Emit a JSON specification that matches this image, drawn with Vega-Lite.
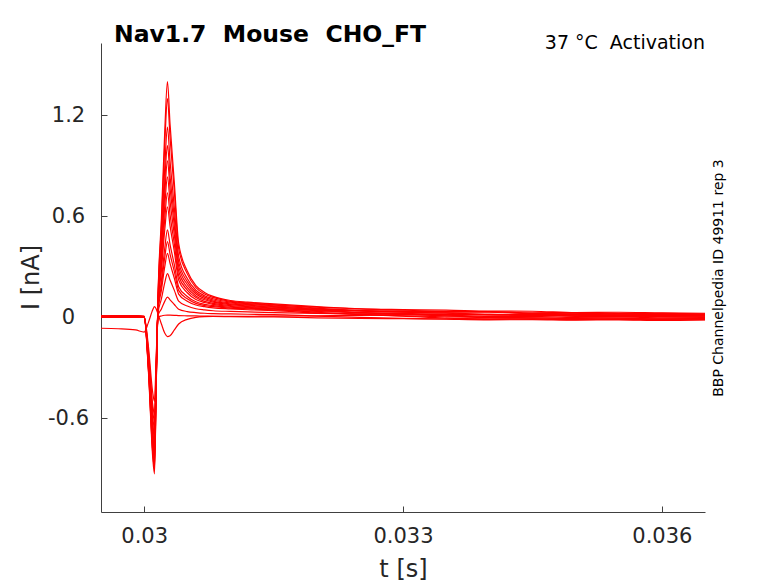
{
  "$schema": "https://vega.github.io/schema/vega-lite/v6.json",
  "description": "Nav1.7 mouse CHO_FT activation current traces, 37 C.",
  "width": 604,
  "height": 469,
  "autosize": "none",
  "padding": {"left": 101, "top": 43, "right": 73, "bottom": 71},
  "background": "white",
  "title": {
    "text": "Nav1.7\u00a0 Mouse\u00a0 CHO_FT",
    "anchor": "start",
    "frame": "group",
    "dx": 13,
    "offset": -32,
    "baseline": "alphabetic",
    "font": "DejaVu Sans",
    "fontSize": 23.5,
    "fontWeight": "bold",
    "color": "#000000"
  },
  "data": {
    "values": [
      {"k":1,"t":0.0295,"i":0.006},{"k":1,"t":0.0297,"i":0.004},{"k":1,"t":0.0299,"i":0.007},{"k":1,"t":0.03,"i":0.003},{"k":1,"t":0.03005,"i":-0.326},{"k":1,"t":0.0301,"i":-0.837},{"k":1,"t":0.03012,"i":-0.93},{"k":1,"t":0.03014,"i":-0.419},{"k":1,"t":0.03016,"i":0.112},{"k":1,"t":0.0302,"i":0.588},{"k":1,"t":0.03024,"i":1.12},{"k":1,"t":0.03027,"i":1.4},{"k":1,"t":0.0303,"i":1.15},{"k":1,"t":0.03035,"i":0.8},{"k":1,"t":0.0304,"i":0.44},{"k":1,"t":0.0305,"i":0.275},{"k":1,"t":0.0306,"i":0.188},{"k":1,"t":0.0307,"i":0.148},{"k":1,"t":0.0308,"i":0.124},{"k":1,"t":0.031,"i":0.1},{"k":1,"t":0.0312,"i":0.09},{"k":1,"t":0.0315,"i":0.08},{"k":1,"t":0.032,"i":0.063},{"k":1,"t":0.0325,"i":0.05},{"k":1,"t":0.033,"i":0.042},{"k":1,"t":0.0335,"i":0.036},{"k":1,"t":0.034,"i":0.034},{"k":1,"t":0.0345,"i":0.024},{"k":1,"t":0.035,"i":0.025},{"k":1,"t":0.0355,"i":0.018},{"k":1,"t":0.036,"i":0.02},{"k":1,"t":0.0365,"i":0.015},
      {"k":2,"t":0.0295,"i":0.004},{"k":2,"t":0.0297,"i":0.006},{"k":2,"t":0.0299,"i":0.003},{"k":2,"t":0.03,"i":0.002},{"k":2,"t":0.03005,"i":-0.315},{"k":2,"t":0.0301,"i":-0.81},{"k":2,"t":0.03012,"i":-0.9},{"k":2,"t":0.03014,"i":-0.405},{"k":2,"t":0.03016,"i":0.104},{"k":2,"t":0.0302,"i":0.546},{"k":2,"t":0.03024,"i":1.04},{"k":2,"t":0.03027,"i":1.3},{"k":2,"t":0.0303,"i":1.07},{"k":2,"t":0.03035,"i":0.745},{"k":2,"t":0.0304,"i":0.41},{"k":2,"t":0.0305,"i":0.258},{"k":2,"t":0.0306,"i":0.176},{"k":2,"t":0.0307,"i":0.139},{"k":2,"t":0.0308,"i":0.118},{"k":2,"t":0.031,"i":0.095},{"k":2,"t":0.0312,"i":0.086},{"k":2,"t":0.0315,"i":0.076},{"k":2,"t":0.032,"i":0.055},{"k":2,"t":0.0325,"i":0.04},{"k":2,"t":0.033,"i":0.03},{"k":2,"t":0.0335,"i":0.024},{"k":2,"t":0.034,"i":0.014},{"k":2,"t":0.0345,"i":0.013},{"k":2,"t":0.035,"i":0.006},{"k":2,"t":0.0355,"i":0.006},{"k":2,"t":0.036,"i":0.002},{"k":2,"t":0.0365,"i":0.003},
      {"k":3,"t":0.0295,"i":0.008},{"k":3,"t":0.0297,"i":0.01},{"k":3,"t":0.0299,"i":0.007},{"k":3,"t":0.03,"i":0.005},{"k":3,"t":0.03005,"i":-0.308},{"k":3,"t":0.0301,"i":-0.792},{"k":3,"t":0.03012,"i":-0.88},{"k":3,"t":0.03014,"i":-0.396},{"k":3,"t":0.03016,"i":0.09},{"k":3,"t":0.0302,"i":0.475},{"k":3,"t":0.03024,"i":0.904},{"k":3,"t":0.03027,"i":1.13},{"k":3,"t":0.0303,"i":0.93},{"k":3,"t":0.03035,"i":0.65},{"k":3,"t":0.0304,"i":0.362},{"k":3,"t":0.0305,"i":0.23},{"k":3,"t":0.0306,"i":0.161},{"k":3,"t":0.0307,"i":0.128},{"k":3,"t":0.0308,"i":0.11},{"k":3,"t":0.031,"i":0.09},{"k":3,"t":0.0312,"i":0.081},{"k":3,"t":0.0315,"i":0.072},{"k":3,"t":0.032,"i":0.06},{"k":3,"t":0.0325,"i":0.05},{"k":3,"t":0.033,"i":0.046},{"k":3,"t":0.0335,"i":0.043},{"k":3,"t":0.034,"i":0.037},{"k":3,"t":0.0345,"i":0.036},{"k":3,"t":0.035,"i":0.028},{"k":3,"t":0.0355,"i":0.03},{"k":3,"t":0.036,"i":0.026},{"k":3,"t":0.0365,"i":0.024},
      {"k":4,"t":0.0295,"i":0.002},{"k":4,"t":0.0297,"i":0.0},{"k":4,"t":0.0299,"i":0.003},{"k":4,"t":0.03,"i":0.001},{"k":4,"t":0.03005,"i":-0.298},{"k":4,"t":0.0301,"i":-0.765},{"k":4,"t":0.03012,"i":-0.85},{"k":4,"t":0.03014,"i":-0.383},{"k":4,"t":0.03016,"i":0.082},{"k":4,"t":0.0302,"i":0.428},{"k":4,"t":0.03024,"i":0.816},{"k":4,"t":0.03027,"i":1.02},{"k":4,"t":0.0303,"i":0.84},{"k":4,"t":0.03035,"i":0.59},{"k":4,"t":0.0304,"i":0.33},{"k":4,"t":0.0305,"i":0.212},{"k":4,"t":0.0306,"i":0.149},{"k":4,"t":0.0307,"i":0.12},{"k":4,"t":0.0308,"i":0.103},{"k":4,"t":0.031,"i":0.085},{"k":4,"t":0.0312,"i":0.077},{"k":4,"t":0.0315,"i":0.068},{"k":4,"t":0.032,"i":0.051},{"k":4,"t":0.0325,"i":0.038},{"k":4,"t":0.033,"i":0.03},{"k":4,"t":0.0335,"i":0.026},{"k":4,"t":0.034,"i":0.017},{"k":4,"t":0.0345,"i":0.015},{"k":4,"t":0.035,"i":0.009},{"k":4,"t":0.0355,"i":0.01},{"k":4,"t":0.036,"i":0.005},{"k":4,"t":0.0365,"i":0.007},
      {"k":5,"t":0.0295,"i":0.005},{"k":5,"t":0.0297,"i":0.003},{"k":5,"t":0.0299,"i":0.006},{"k":5,"t":0.03,"i":0.004},{"k":5,"t":0.03005,"i":-0.287},{"k":5,"t":0.0301,"i":-0.738},{"k":5,"t":0.03012,"i":-0.82},{"k":5,"t":0.03014,"i":-0.369},{"k":5,"t":0.03016,"i":0.074},{"k":5,"t":0.0302,"i":0.391},{"k":5,"t":0.03024,"i":0.744},{"k":5,"t":0.03027,"i":0.93},{"k":5,"t":0.0303,"i":0.768},{"k":5,"t":0.03035,"i":0.54},{"k":5,"t":0.0304,"i":0.303},{"k":5,"t":0.0305,"i":0.195},{"k":5,"t":0.0306,"i":0.138},{"k":5,"t":0.0307,"i":0.112},{"k":5,"t":0.0308,"i":0.096},{"k":5,"t":0.031,"i":0.08},{"k":5,"t":0.0312,"i":0.072},{"k":5,"t":0.0315,"i":0.064},{"k":5,"t":0.032,"i":0.044},{"k":5,"t":0.0325,"i":0.028},{"k":5,"t":0.033,"i":0.018},{"k":5,"t":0.0335,"i":0.009},{"k":5,"t":0.034,"i":0.0},{"k":5,"t":0.0345,"i":-0.003},{"k":5,"t":0.035,"i":-0.006},{"k":5,"t":0.0355,"i":-0.005},{"k":5,"t":0.036,"i":-0.01},{"k":5,"t":0.0365,"i":-0.008},
      {"k":6,"t":0.0295,"i":0.007},{"k":6,"t":0.0297,"i":0.009},{"k":6,"t":0.0299,"i":0.006},{"k":6,"t":0.03,"i":0.004},{"k":6,"t":0.03005,"i":-0.28},{"k":6,"t":0.0301,"i":-0.72},{"k":6,"t":0.03012,"i":-0.8},{"k":6,"t":0.03014,"i":-0.36},{"k":6,"t":0.03016,"i":0.067},{"k":6,"t":0.0302,"i":0.351},{"k":6,"t":0.03024,"i":0.668},{"k":6,"t":0.03027,"i":0.835},{"k":6,"t":0.0303,"i":0.69},{"k":6,"t":0.03035,"i":0.488},{"k":6,"t":0.0304,"i":0.275},{"k":6,"t":0.0305,"i":0.178},{"k":6,"t":0.0306,"i":0.127},{"k":6,"t":0.0307,"i":0.104},{"k":6,"t":0.0308,"i":0.09},{"k":6,"t":0.031,"i":0.075},{"k":6,"t":0.0312,"i":0.068},{"k":6,"t":0.0315,"i":0.06},{"k":6,"t":0.032,"i":0.049},{"k":6,"t":0.0325,"i":0.04},{"k":6,"t":0.033,"i":0.035},{"k":6,"t":0.0335,"i":0.031},{"k":6,"t":0.034,"i":0.03},{"k":6,"t":0.0345,"i":0.022},{"k":6,"t":0.035,"i":0.024},{"k":6,"t":0.0355,"i":0.019},{"k":6,"t":0.036,"i":0.02},{"k":6,"t":0.0365,"i":0.016},
      {"k":7,"t":0.0295,"i":0.003},{"k":7,"t":0.0297,"i":0.005},{"k":7,"t":0.0299,"i":0.002},{"k":7,"t":0.03,"i":0.001},{"k":7,"t":0.03005,"i":-0.273},{"k":7,"t":0.0301,"i":-0.702},{"k":7,"t":0.03012,"i":-0.78},{"k":7,"t":0.03014,"i":-0.351},{"k":7,"t":0.03016,"i":0.059},{"k":7,"t":0.0302,"i":0.311},{"k":7,"t":0.03024,"i":0.592},{"k":7,"t":0.03027,"i":0.74},{"k":7,"t":0.0303,"i":0.612},{"k":7,"t":0.03035,"i":0.435},{"k":7,"t":0.0304,"i":0.248},{"k":7,"t":0.0305,"i":0.162},{"k":7,"t":0.0306,"i":0.117},{"k":7,"t":0.0307,"i":0.095},{"k":7,"t":0.0308,"i":0.083},{"k":7,"t":0.031,"i":0.07},{"k":7,"t":0.0312,"i":0.063},{"k":7,"t":0.0315,"i":0.056},{"k":7,"t":0.032,"i":0.04},{"k":7,"t":0.0325,"i":0.028},{"k":7,"t":0.033,"i":0.019},{"k":7,"t":0.0335,"i":0.013},{"k":7,"t":0.034,"i":0.005},{"k":7,"t":0.0345,"i":0.006},{"k":7,"t":0.035,"i":0.0},{"k":7,"t":0.0355,"i":0.002},{"k":7,"t":0.036,"i":-0.003},{"k":7,"t":0.0365,"i":-0.001},
      {"k":8,"t":0.0295,"i":0.009},{"k":8,"t":0.0297,"i":0.007},{"k":8,"t":0.0299,"i":0.01},{"k":8,"t":0.03,"i":0.006},{"k":8,"t":0.03005,"i":-0.263},{"k":8,"t":0.0301,"i":-0.675},{"k":8,"t":0.03012,"i":-0.75},{"k":8,"t":0.03014,"i":-0.338},{"k":8,"t":0.03016,"i":0.053},{"k":8,"t":0.0302,"i":0.276},{"k":8,"t":0.03024,"i":0.526},{"k":8,"t":0.03027,"i":0.657},{"k":8,"t":0.0303,"i":0.545},{"k":8,"t":0.03035,"i":0.39},{"k":8,"t":0.0304,"i":0.222},{"k":8,"t":0.0305,"i":0.146},{"k":8,"t":0.0306,"i":0.106},{"k":8,"t":0.0307,"i":0.088},{"k":8,"t":0.0308,"i":0.077},{"k":8,"t":0.031,"i":0.065},{"k":8,"t":0.0312,"i":0.059},{"k":8,"t":0.0315,"i":0.052},{"k":8,"t":0.032,"i":0.044},{"k":8,"t":0.0325,"i":0.038},{"k":8,"t":0.033,"i":0.036},{"k":8,"t":0.0335,"i":0.034},{"k":8,"t":0.034,"i":0.033},{"k":8,"t":0.0345,"i":0.027},{"k":8,"t":0.035,"i":0.028},{"k":8,"t":0.0355,"i":0.023},{"k":8,"t":0.036,"i":0.024},{"k":8,"t":0.0365,"i":0.021},
      {"k":9,"t":0.0295,"i":0.001},{"k":9,"t":0.0297,"i":0.003},{"k":9,"t":0.0299,"i":0.0},{"k":9,"t":0.03,"i":-0.001},{"k":9,"t":0.03005,"i":-0.252},{"k":9,"t":0.0301,"i":-0.648},{"k":9,"t":0.03012,"i":-0.72},{"k":9,"t":0.03014,"i":-0.324},{"k":9,"t":0.03016,"i":0.042},{"k":9,"t":0.0302,"i":0.218},{"k":9,"t":0.03024,"i":0.416},{"k":9,"t":0.03027,"i":0.52},{"k":9,"t":0.0303,"i":0.433},{"k":9,"t":0.03035,"i":0.313},{"k":9,"t":0.0304,"i":0.182},{"k":9,"t":0.0305,"i":0.124},{"k":9,"t":0.0306,"i":0.092},{"k":9,"t":0.0307,"i":0.077},{"k":9,"t":0.0308,"i":0.069},{"k":9,"t":0.031,"i":0.06},{"k":9,"t":0.0312,"i":0.054},{"k":9,"t":0.0315,"i":0.048},{"k":9,"t":0.032,"i":0.03},{"k":9,"t":0.0325,"i":0.017},{"k":9,"t":0.033,"i":0.007},{"k":9,"t":0.0335,"i":-0.005},{"k":9,"t":0.034,"i":-0.009},{"k":9,"t":0.0345,"i":-0.01},{"k":9,"t":0.035,"i":-0.014},{"k":9,"t":0.0355,"i":-0.012},{"k":9,"t":0.036,"i":-0.016},{"k":9,"t":0.0365,"i":-0.014},
      {"k":10,"t":0.0295,"i":0.006},{"k":10,"t":0.0297,"i":0.004},{"k":10,"t":0.0299,"i":0.007},{"k":10,"t":0.03,"i":0.003},{"k":10,"t":0.03005,"i":-0.245},{"k":10,"t":0.0301,"i":-0.63},{"k":10,"t":0.03012,"i":-0.7},{"k":10,"t":0.03014,"i":-0.315},{"k":10,"t":0.03016,"i":0.036},{"k":10,"t":0.0302,"i":0.189},{"k":10,"t":0.03024,"i":0.36},{"k":10,"t":0.03027,"i":0.45},{"k":10,"t":0.0303,"i":0.376},{"k":10,"t":0.03035,"i":0.272},{"k":10,"t":0.0304,"i":0.16},{"k":10,"t":0.0305,"i":0.11},{"k":10,"t":0.0306,"i":0.083},{"k":10,"t":0.0307,"i":0.07},{"k":10,"t":0.0308,"i":0.063},{"k":10,"t":0.031,"i":0.055},{"k":10,"t":0.0312,"i":0.05},{"k":10,"t":0.0315,"i":0.044},{"k":10,"t":0.032,"i":0.035},{"k":10,"t":0.0325,"i":0.027},{"k":10,"t":0.033,"i":0.023},{"k":10,"t":0.0335,"i":0.018},{"k":10,"t":0.034,"i":0.016},{"k":10,"t":0.0345,"i":0.012},{"k":10,"t":0.035,"i":0.013},{"k":10,"t":0.0355,"i":0.009},{"k":10,"t":0.036,"i":0.01},{"k":10,"t":0.0365,"i":0.008},
      {"k":11,"t":0.0295,"i":0.004},{"k":11,"t":0.0297,"i":0.002},{"k":11,"t":0.0299,"i":0.005},{"k":11,"t":0.03,"i":0.002},{"k":11,"t":0.03005,"i":-0.231},{"k":11,"t":0.0301,"i":-0.594},{"k":11,"t":0.03012,"i":-0.66},{"k":11,"t":0.03014,"i":-0.297},{"k":11,"t":0.03016,"i":0.03},{"k":11,"t":0.0302,"i":0.16},{"k":11,"t":0.03024,"i":0.304},{"k":11,"t":0.03027,"i":0.38},{"k":11,"t":0.0303,"i":0.32},{"k":11,"t":0.03035,"i":0.232},{"k":11,"t":0.0304,"i":0.138},{"k":11,"t":0.0305,"i":0.096},{"k":11,"t":0.0306,"i":0.073},{"k":11,"t":0.0307,"i":0.063},{"k":11,"t":0.0308,"i":0.056},{"k":11,"t":0.031,"i":0.05},{"k":11,"t":0.0312,"i":0.045},{"k":11,"t":0.0315,"i":0.04},{"k":11,"t":0.032,"i":0.026},{"k":11,"t":0.0325,"i":0.017},{"k":11,"t":0.033,"i":0.009},{"k":11,"t":0.0335,"i":0.003},{"k":11,"t":0.034,"i":-0.002},{"k":11,"t":0.0345,"i":-0.004},{"k":11,"t":0.035,"i":-0.006},{"k":11,"t":0.0355,"i":-0.005},{"k":11,"t":0.036,"i":-0.009},{"k":11,"t":0.0365,"i":-0.007},
      {"k":12,"t":0.0295,"i":0.007},{"k":12,"t":0.0297,"i":0.009},{"k":12,"t":0.0299,"i":0.006},{"k":12,"t":0.03,"i":0.005},{"k":12,"t":0.03005,"i":-0.217},{"k":12,"t":0.0301,"i":-0.558},{"k":12,"t":0.03012,"i":-0.62},{"k":12,"t":0.03014,"i":-0.279},{"k":12,"t":0.03016,"i":0.021},{"k":12,"t":0.0302,"i":0.109},{"k":12,"t":0.03024,"i":0.208},{"k":12,"t":0.03027,"i":0.26},{"k":12,"t":0.0303,"i":0.222},{"k":12,"t":0.03035,"i":0.16},{"k":12,"t":0.0304,"i":0.096},{"k":12,"t":0.0305,"i":0.067},{"k":12,"t":0.0306,"i":0.051},{"k":12,"t":0.0307,"i":0.044},{"k":12,"t":0.0308,"i":0.039},{"k":12,"t":0.031,"i":0.035},{"k":12,"t":0.0312,"i":0.032},{"k":12,"t":0.0315,"i":0.028},{"k":12,"t":0.032,"i":0.023},{"k":12,"t":0.0325,"i":0.02},{"k":12,"t":0.033,"i":0.018},{"k":12,"t":0.0335,"i":0.016},{"k":12,"t":0.034,"i":0.017},{"k":12,"t":0.0345,"i":0.013},{"k":12,"t":0.035,"i":0.014},{"k":12,"t":0.0355,"i":0.01},{"k":12,"t":0.036,"i":0.012},{"k":12,"t":0.0365,"i":0.01},
      {"k":13,"t":0.0295,"i":0.002},{"k":13,"t":0.0297,"i":0.0},{"k":13,"t":0.0299,"i":0.003},{"k":13,"t":0.03,"i":0.001},{"k":13,"t":0.03005,"i":-0.203},{"k":13,"t":0.0301,"i":-0.522},{"k":13,"t":0.03012,"i":-0.58},{"k":13,"t":0.03014,"i":-0.261},{"k":13,"t":0.03016,"i":0.01},{"k":13,"t":0.0302,"i":0.05},{"k":13,"t":0.03024,"i":0.096},{"k":13,"t":0.03027,"i":0.12},{"k":13,"t":0.0303,"i":0.104},{"k":13,"t":0.03035,"i":0.076},{"k":13,"t":0.0304,"i":0.048},{"k":13,"t":0.0305,"i":0.034},{"k":13,"t":0.0306,"i":0.028},{"k":13,"t":0.0307,"i":0.024},{"k":13,"t":0.0308,"i":0.022},{"k":13,"t":0.031,"i":0.02},{"k":13,"t":0.0312,"i":0.018},{"k":13,"t":0.0315,"i":0.016},{"k":13,"t":0.032,"i":0.007},{"k":13,"t":0.0325,"i":0.0},{"k":13,"t":0.033,"i":-0.006},{"k":13,"t":0.0335,"i":-0.011},{"k":13,"t":0.034,"i":-0.015},{"k":13,"t":0.0345,"i":-0.014},{"k":13,"t":0.035,"i":-0.017},{"k":13,"t":0.0355,"i":-0.015},{"k":13,"t":0.036,"i":-0.019},{"k":13,"t":0.0365,"i":-0.016},
      {"k":14,"t":0.0295,"i":0.005},{"k":14,"t":0.0297,"i":0.007},{"k":14,"t":0.0299,"i":0.004},{"k":14,"t":0.03,"i":0.003},{"k":14,"t":0.03005,"i":-0.175},{"k":14,"t":0.0301,"i":-0.45},{"k":14,"t":0.03012,"i":-0.5},{"k":14,"t":0.03014,"i":-0.225},{"k":14,"t":0.03016,"i":0.0},{"k":14,"t":0.0302,"i":0.008},{"k":14,"t":0.03024,"i":0.012},{"k":14,"t":0.03027,"i":0.013},{"k":14,"t":0.0303,"i":0.013},{"k":14,"t":0.03035,"i":0.012},{"k":14,"t":0.0304,"i":0.01},{"k":14,"t":0.0305,"i":0.009},{"k":14,"t":0.0306,"i":0.008},{"k":14,"t":0.0307,"i":0.007},{"k":14,"t":0.0308,"i":0.006},{"k":14,"t":0.031,"i":0.005},{"k":14,"t":0.0312,"i":0.006},{"k":14,"t":0.0315,"i":0.007},{"k":14,"t":0.032,"i":0.009},{"k":14,"t":0.0325,"i":0.011},{"k":14,"t":0.033,"i":0.014},{"k":14,"t":0.0335,"i":0.016},{"k":14,"t":0.034,"i":0.015},{"k":14,"t":0.0345,"i":0.017},{"k":14,"t":0.035,"i":0.016},{"k":14,"t":0.0355,"i":0.018},{"k":14,"t":0.036,"i":0.016},{"k":14,"t":0.0365,"i":0.017},
      {"k":15,"t":0.0295,"i":-0.065},{"k":15,"t":0.0297,"i":-0.068},{"k":15,"t":0.0299,"i":-0.075},{"k":15,"t":0.03,"i":-0.088},{"k":15,"t":0.03005,"i":-0.03},{"k":15,"t":0.0301,"i":0.045},{"k":15,"t":0.03012,"i":0.063},{"k":15,"t":0.03014,"i":0.05},{"k":15,"t":0.03016,"i":0.02},{"k":15,"t":0.0302,"i":-0.04},{"k":15,"t":0.03024,"i":-0.095},{"k":15,"t":0.03027,"i":-0.115},{"k":15,"t":0.0303,"i":-0.11},{"k":15,"t":0.03035,"i":-0.075},{"k":15,"t":0.0304,"i":-0.04},{"k":15,"t":0.0305,"i":-0.012},{"k":15,"t":0.0306,"i":0.0},{"k":15,"t":0.0307,"i":0.004},{"k":15,"t":0.0308,"i":0.005},{"k":15,"t":0.031,"i":0.004},{"k":15,"t":0.0312,"i":0.003},{"k":15,"t":0.0315,"i":0.002},{"k":15,"t":0.032,"i":-0.003},{"k":15,"t":0.0325,"i":-0.006},{"k":15,"t":0.033,"i":-0.008},{"k":15,"t":0.0335,"i":-0.01},{"k":15,"t":0.034,"i":-0.012},{"k":15,"t":0.0345,"i":-0.009},{"k":15,"t":0.035,"i":-0.013},{"k":15,"t":0.0355,"i":-0.01},{"k":15,"t":0.036,"i":-0.012},{"k":15,"t":0.0365,"i":-0.011}
    ]
  },
  "layer": [
    {
      "mark": {"type": "line", "color": "#ff0000", "strokeWidth": 1.2, "interpolate": "monotone", "clip": true},
      "encoding": {
        "x": {
          "field": "t",
          "type": "quantitative",
          "scale": {"domain": [0.0295, 0.0365], "nice": false, "zero": false},
          "axis": {
            "values": [0.03, 0.033, 0.036],
            "format": ".3~f",
            "title": "t [s]",
            "tickSize": -6,
            "labelPadding": 19,
            "labelBaseline": "top",
            "labelFontSize": 21,
            "titleFontSize": 24,
            "titleFontWeight": "normal",
            "titleBaseline": "alphabetic",
            "titleY": 64
          }
        },
        "y": {
          "field": "i",
          "type": "quantitative",
          "scale": {"domain": [-1.157, 1.63], "nice": false, "zero": false},
          "axis": {
            "values": [-0.6, 0, 0.6, 1.2],
            "labelExpr": "datum.value < 0 ? '-' + format(-datum.value, '~g') : format(datum.value, '~g')",
            "title": "I [nA]",
            "tickSize": -6,
            "labelAlign": "center",
            "labelPadding": 39,
            "labelFontSize": 21,
            "titleFontSize": 24,
            "titleFontWeight": "normal",
            "titleAngle": 270,
            "titleAlign": "center",
            "titleBaseline": "alphabetic",
            "titleX": -63,
            "titleY": 234
          }
        },
        "detail": {"field": "k", "type": "nominal"}
      }
    },
    {
      "mark": {"type": "line", "opacity": 0},
      "encoding": {
        "x": {
          "field": "t",
          "type": "quantitative",
          "scale": {"domain": [0.0295, 0.0365], "nice": false, "zero": false},
          "axis": {
            "orient": "top",
            "domain": false,
            "ticks": false,
            "labels": false,
            "title": "37 \u00b0C\u00a0 Activation",
            "titleFontSize": 19,
            "titleFontWeight": "normal",
            "titleColor": "#000000",
            "titleAlign": "right",
            "titleBaseline": "alphabetic",
            "titleX": 603.5,
            "titleY": 5
          }
        },
        "y": {
          "field": "i",
          "type": "quantitative",
          "scale": {"domain": [-1.157, 1.63], "nice": false, "zero": false},
          "axis": {
            "orient": "right",
            "domain": false,
            "ticks": false,
            "labels": false,
            "title": "BBP Channelpedia ID 49911 rep 3",
            "titleFontSize": 14,
            "titleFontWeight": "normal",
            "titleColor": "#000000",
            "titleAngle": 270,
            "titleAlign": "center",
            "titleBaseline": "alphabetic",
            "titleX": 17.5,
            "titleY": 234.5
          }
        },
        "detail": {"field": "k", "type": "nominal"}
      }
    }
  ],
  "resolve": {"scale": {"x": "independent", "y": "independent"}},
  "config": {
    "view": {"stroke": null},
    "axis": {
      "grid": false,
      "labelFont": "DejaVu Sans",
      "titleFont": "DejaVu Sans",
      "labelColor": "#262626",
      "titleColor": "#262626",
      "domainColor": "#404040",
      "tickColor": "#404040",
      "domainWidth": 1,
      "tickWidth": 1
    }
  }
}
